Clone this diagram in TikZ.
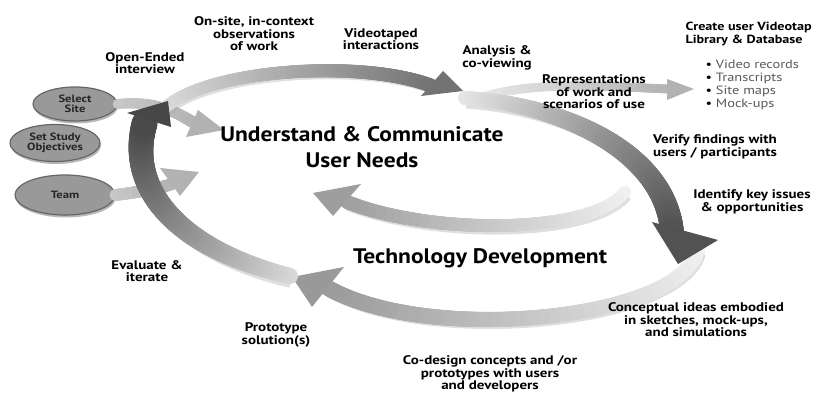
\documentclass[tikz,border=0pt]{standalone}
\usepackage{fontspec}
\setmainfont{PT Sans}
\newfontfamily\lblfont[FakeStretch=1.2]{PT Sans}
\newfontfamily\bigfont[FakeStretch=1.12]{PT Sans}
\usetikzlibrary{decorations.markings,shapes.geometric,shadows}

\tikzset{
  band/.style n args={4}{postaction={decorate,decoration={markings,
      mark=between positions 0 and 1 step 1pt with {%
        \pgfmathsetmacro\bandpos{\pgfkeysvalueof{/pgf/decoration/mark info/distance from start}/\pgfdecoratedpathlength}%
        \pgfmathtruncatemacro\bandtone{#1+(#2-#1)*\bandpos}%
        \pgfmathsetmacro\bandrad{#3+(#4-#3)*\bandpos}%
        \fill[black!\bandtone] (0,0) circle (\bandrad pt);}}}},
  bandshadow/.style={preaction={draw=black!35, opacity=.35, line width=#1,
      transform canvas={shift={(1.5pt,-3pt)}}}},
  disc/.style={ellipse, fill=black!40, draw=black!60, line width=1.2pt,
    drop shadow={shadow xshift=1pt, shadow yshift=-2.5pt, fill=black!55},
    font=\lblfont\fontsize{10.5}{10.5}\selectfont\bfseries, text=black!85, align=center, inner sep=0pt},
  lbl/.style={font=\lblfont\fontsize{12.5}{12.5}\selectfont\bfseries, align=center},
  big/.style={font=\bigfont\fontsize{21}{26}\selectfont\bfseries, align=center},
}

\begin{document}
\begin{tikzpicture}[x=1pt,y=-1pt]
    \useasboundingbox[fill=white] (0,0) rectangle (823,406);
    % discs on the left
    \node[disc, minimum width=84pt, minimum height=34pt] (site) at (75,104) {Select\\Site};
    \node[disc, minimum width=90pt, minimum height=37pt] (study) at (55,143) {Set Study\\Objectives};
    \node[disc, minimum width=100pt, minimum height=40pt] (team) at (65,195) {Team};
    % arrows out of the discs
    \coordinate (site-e) at (196,124);
    \coordinate (team-e) at (172,184);
    \path[band={22}{30}{5}{6}] (site.east) .. controls (160,100) and (180,115) .. (site-e);
    \fill[black!30] (198,110) -- (224,130) -- (186,137) -- cycle;
    \path[band={22}{30}{6}{6}] (team.east) .. controls (140,192) and (160,188) .. (team-e);
    \fill[black!30] (160,168) -- (199,172) -- (180,196) -- cycle;
    % lower cycle
    \coordinate (low-s) at (698,250);
    \coordinate (low-e) at (328,288);
    \path[bandshadow=13pt, band={6}{40}{7}{8}] (low-s) .. controls (680,320) and (430,345) .. (low-e);
    \fill[black!40] (292,277) -- (344,267) -- (312,307) -- cycle;
    \coordinate (mid-s) at (625,192);
    \coordinate (mid-e) at (347,202);
    \path[bandshadow=12pt, band={6}{38}{6}{7}] (mid-s) .. controls (590,235) and (430,235) .. (mid-e);
    \fill[black!38] (313,193) -- (361,184) -- (333,216) -- cycle;
    % upper cycle
    \coordinate (rep-s) at (470,102);
    \coordinate (rep-e) at (667,89);
    \path[band={8}{30}{4.5}{4.5}] (rep-s) .. controls (520,80) and (600,86) .. (rep-e);
    \fill[black!30] (667,79) -- (694,89) -- (667,100) -- cycle;
    \coordinate (right-s) at (465,98);
    \coordinate (right-e) at (672,232);
    \path[bandshadow=15pt, band={10}{68}{7}{12}] (right-s) .. controls (560,105) and (665,150) .. (right-e);
    \fill[black!68] (652,222) -- (718,240) -- (678,264) -- cycle;
    \coordinate (top-s) at (163,110);
    \coordinate (top-e) at (432,86);
    \path[bandshadow=11pt, band={14}{55}{6}{7}] (top-s) .. controls (200,70) and (360,58) .. (top-e);
    \fill[black!55] (443,71) -- (463,91) -- (421,96) -- cycle;
    \coordinate (left-s) at (290,276);
    \coordinate (left-e) at (145,122);
    \path[bandshadow=18pt, band={15}{72}{8}{13}] (left-s) .. controls (180,250) and (125,190) .. (left-e);
    \fill[black!72] (127,113) -- (168,101) -- (171,127) -- cycle;
    % titles
    \node[big] (und) at (362,147) {Understand \& Communicate\\User Needs};
    \node[big] (tech) at (480,258) {Technology Development};
    % labels
    \node[lbl] (onsite) at (254,34) {On-site, in-context\\observations\\of work};
    \node[lbl] (video) at (381,39) {Videotaped\\interactions};
    \node[lbl] (open) at (145,63) {Open-Ended\\interview};
    \node[lbl] (analysis) at (497,58) {Analysis \&\\co-viewing};
    \node[lbl] (repr) at (594,92) {Representations\\of work and\\scenarios of use};
    \node[lbl, align=left, anchor=north west, font=\lblfont\fontsize{11.8}{13}\selectfont\bfseries] (library) at (682,19) {Create user Videotap\\Library \& Database};
    \node[anchor=north west, align=left, text=black!65, font=\lblfont\fontsize{12}{13}\selectfont] (records) at (702,56)
        {{\color{black}\textbullet}\ Video records\\{\color{black}\textbullet}\ Transcripts\\{\color{black}\textbullet}\ Site maps\\{\color{black}\textbullet}\ Mock-ups};
    \node[lbl] (verify) at (715,147) {Verify findings with\\users / participants};
    \node[lbl] (identify) at (752,202) {Identify key issues\\\& opportunities};
    \node[lbl] (concept) at (696,320) {Conceptual ideas embodied\\in sketches, mock-ups,\\and simulations};
    \node[lbl] (codesign) at (490,374) {Co-design concepts and /or\\prototypes with users\\and developers};
    \node[lbl] (proto) at (276,335) {Prototype\\solution(s)};
    \node[lbl] (evaluate) at (147,271) {Evaluate \&\\iterate};
\end{tikzpicture}
\end{document}
